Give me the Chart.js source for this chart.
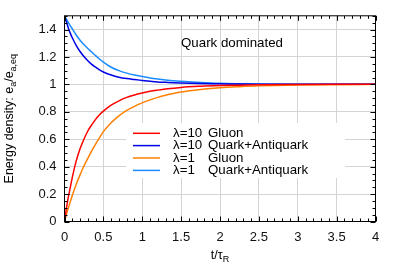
<!DOCTYPE html>
<html><head><meta charset="utf-8">
<script src="https://cdn.jsdelivr.net/npm/chart.js@4"></script>
<style>html,body{margin:0;padding:0;background:#fff}#w{width:399px;height:279px}</style>
</head><body><div id="w"><canvas id="c" width="399" height="279"></canvas></div>
<script>
const tVals    = [0, 0.025, 0.05, 0.075, 0.1, 0.15, 0.2, 0.25, 0.3, 0.35, 0.4, 0.45, 0.5, 0.6, 0.7, 0.8, 0.9, 1.0, 1.1, 1.2, 1.3, 1.4, 1.5, 1.75, 2, 2.25, 2.5, 3, 3.5, 4];
const gluonL10 = [0, 0.10, 0.18, 0.25, 0.32, 0.44, 0.53, 0.60, 0.66, 0.705, 0.745, 0.778, 0.805, 0.848, 0.88, 0.905, 0.923, 0.937, 0.949, 0.958, 0.966, 0.972, 0.978, 0.986, 0.991, 0.994, 0.997, 0.999, 1.0, 1.0];
const quarkL10 = [1.5, 1.455, 1.41, 1.372, 1.34, 1.285, 1.24, 1.203, 1.172, 1.146, 1.125, 1.106, 1.09, 1.068, 1.052, 1.042, 1.035, 1.029, 1.023, 1.018, 1.015, 1.012, 1.01, 1.006, 1.004, 1.002, 1.001, 1.0, 1.0, 1.0];
const gluonL1  = [0, 0.052, 0.10, 0.145, 0.19, 0.27, 0.34, 0.405, 0.46, 0.515, 0.565, 0.61, 0.655, 0.72, 0.77, 0.81, 0.84, 0.865, 0.887, 0.905, 0.92, 0.933, 0.944, 0.962, 0.975, 0.983, 0.989, 0.995, 0.998, 1.0];
const quarkL1  = [1.5, 1.475, 1.45, 1.427, 1.405, 1.36, 1.322, 1.29, 1.262, 1.236, 1.21, 1.185, 1.162, 1.125, 1.1, 1.082, 1.068, 1.057, 1.047, 1.039, 1.032, 1.026, 1.022, 1.014, 1.008, 1.005, 1.003, 1.001, 1.0, 1.0];
const seriesLambda = ['λ=10', 'λ=10', 'λ=1', 'λ=1'];
const seriesKind = ['Gluon', 'Quark+Antiquark', 'Gluon', 'Quark+Antiquark'];
const xTicks = [0, 0.5, 1, 1.5, 2, 2.5, 3, 3.5, 4];
const yTicks = [0, 0.2, 0.4, 0.6, 0.8, 1, 1.2, 1.4];
const annotation = 'Quark dominated';

const colors = ['#ff0000', '#0000e6', '#ff8000', '#1a8cff'];
const allSeries = [gluonL10, quarkL10, gluonL1, quarkL1];
const FONT = '"Liberation Sans", Arial, sans-serif';

function richText(ctx, segs, x, y, size, align) {
  ctx.save();
  let w = 0;
  for (const s of segs) { ctx.font = (s.sub ? size * 0.72 : size) + 'px ' + FONT; w += ctx.measureText(s.t).width; }
  let cx = align === 'center' ? x - w / 2 : x;
  ctx.textBaseline = 'middle'; ctx.textAlign = 'left';
  for (const s of segs) {
    ctx.font = (s.sub ? size * 0.72 : size) + 'px ' + FONT;
    ctx.fillText(s.t, cx, s.sub ? y + size * 0.3 : y);
    cx += ctx.measureText(s.t).width;
  }
  ctx.restore();
}

const L = 64.5, R = 375.5, T = 13.5, B = 221.5;

const deco = {
  id: 'deco',
  beforeDatasetsDraw(chart) {
    const ctx = chart.ctx;
    ctx.save();
    ctx.fillStyle = '#fff';
    ctx.fillRect(126, 123, 219, 55);
    ctx.restore();
  },
  afterDatasetsDraw(chart) {
    const ctx = chart.ctx, xs = chart.scales.x, ys = chart.scales.y;
    const a = chart.chartArea;
    ctx.save();
    ctx.strokeStyle = '#000'; ctx.lineWidth = 1;
    ctx.beginPath();
    for (let i = 0; i <= 40; i++) {
      const v = i * 0.1; const px = Math.round(xs.getPixelForValue(v)) + 0.5;
      const len = (i % 5 === 0) ? 5 : 3;
      ctx.moveTo(px, a.bottom); ctx.lineTo(px, a.bottom - len);
      ctx.moveTo(px, a.top); ctx.lineTo(px, a.top + len);
    }
    for (let i = 0; i <= 30; i++) {
      const v = i * 0.05; const py = Math.round(ys.getPixelForValue(v)) + 0.5;
      const len = (i % 4 === 0) ? 5 : 3;
      ctx.moveTo(a.left, py); ctx.lineTo(a.left + len, py);
      ctx.moveTo(a.right, py); ctx.lineTo(a.right - len, py);
    }
    ctx.stroke();
    ctx.strokeRect(a.left, a.top, a.right - a.left, a.bottom - a.top);
    ctx.fillStyle = '#000';
    ctx.font = '13.3px ' + FONT; ctx.textBaseline = 'middle'; ctx.textAlign = 'left';
    ctx.fillText(annotation, 181, 43);
    const rows = [133.3, 145.6, 158, 170.4];
    for (let i = 0; i < 4; i++) {
      ctx.strokeStyle = colors[i]; ctx.lineWidth = 1.5;
      ctx.beginPath(); ctx.moveTo(133, rows[i]); ctx.lineTo(160, rows[i]); ctx.stroke();
      ctx.fillStyle = '#000'; ctx.font = '13.3px ' + FONT;
      ctx.fillText(seriesLambda[i], 173, rows[i]);
      ctx.fillText(seriesKind[i], 208, rows[i]);
    }
    ctx.fillStyle = '#000';
    richText(ctx, [{t: 't/τ'}, {t: 'R', sub: true}], (a.left + a.right) / 2, 256, 12.5, 'center');
    ctx.save();
    ctx.translate(10, (a.top + a.bottom) / 2);
    ctx.rotate(-Math.PI / 2);
    richText(ctx, [{t: 'Energy density: e'}, {t: 'a', sub: true}, {t: '/e'}, {t: 'a,eq', sub: true}], 0, 0, 12.5, 'center');
    ctx.restore();
    ctx.restore();
  }
};

new Chart(document.getElementById('c'), {
  type: 'line',
  data: {
    datasets: allSeries.map((s, i) => ({
      label: seriesLambda[i] + ' ' + seriesKind[i],
      data: tVals.map((t, j) => ({x: t, y: s[j]})),
      borderColor: colors[i], borderWidth: 1.5, pointRadius: 0, fill: false,
      cubicInterpolationMode: 'monotone'
    }))
  },
  options: {
    responsive: false, animation: false, devicePixelRatio: 1,
    layout: {padding: {left: 0, right: 399 - R, top: T, bottom: 0}},
    plugins: {legend: {display: false}, tooltip: {enabled: false}},
    scales: {
      x: {
        type: 'linear', min: 0, max: 4,
        afterBuildTicks: s => { s.ticks = xTicks.map(v => ({value: v})); },
        afterFit: s => { s.height = 279 - B; },
        grid: {color: '#d4d4d4', lineWidth: 1, drawTicks: false},
        border: {display: false},
        ticks: {color: '#111', font: {family: FONT, size: 13}, padding: 8, maxRotation: 0,
          callback: v => String(v)}
      },
      y: {
        type: 'linear', min: 0, max: 1.5,
        afterBuildTicks: s => { s.ticks = yTicks.map(v => ({value: v})); },
        afterFit: s => { s.width = L; },
        grid: {color: '#d4d4d4', lineWidth: 1, drawTicks: false},
        border: {display: false},
        ticks: {color: '#111', font: {family: FONT, size: 13}, padding: 8,
          callback: v => String(Math.round(v * 10) / 10)}
      }
    }
  },
  plugins: [deco]
});
</script></body></html>
